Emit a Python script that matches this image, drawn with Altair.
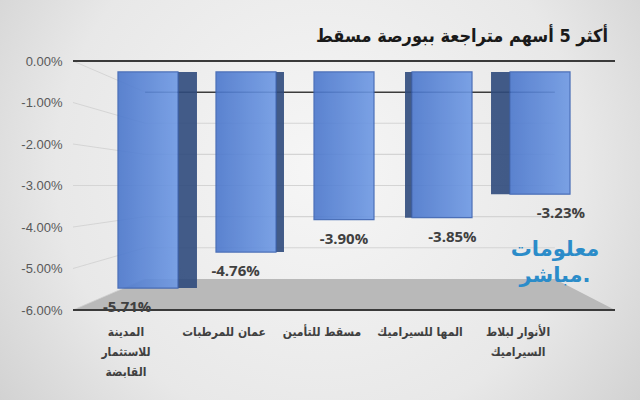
import altair as alt
import pandas as pd

# ---- data ----
companies = [
    "المدينة\nللاستثمار\nالقابضة",
    "عمان للمرطبات",
    "مسقط للتأمين",
    "المها للسيراميك",
    "الأنوار لبلاط\nالسيراميك",
]
changes = [-5.71, -4.76, -3.90, -3.85, -3.23]
y_ticks = [0, -1, -2, -3, -4, -5, -6]
wall_levels = [0, -1, -2, -3, -4, -5, -6]
title_text = "أكثر 5 أسهم متراجعة ببورصة مسقط"
watermark_text = "معلومات\nمباشر."

# ---- layout / style ----
W, H = 542, 249
PAD = {"left": 73, "top": 61, "right": 25, "bottom": 90}
BACK_L, BACK_R = 0.133, 0.889          # back wall extent (fraction of plot width)
AXIS_DOMAIN = [-6, 0]
BAR_DOMAIN = [-6.29, 0.29]               # front faces (perspective)
WALL_DOMAIN = [-7, 1]                    # back wall
BAR_W = 60
ARABIC_FONT = "DejaVu Sans Condensed, DejaVu Sans"
# side faces: (company index, width, side)
sides = [(0, 19, 1), (1, 8, 1), (3, 7, -1), (4, 19, -1)]

df = pd.DataFrame({"company": companies, "change": changes})
band = alt.Scale(domain=companies, paddingInner=0.39, paddingOuter=0.46)
frac = alt.Scale(domain=[0, 1], nice=False, zero=False)

bg = alt.Chart(pd.DataFrame({"a": [0]})).mark_rect(
    fill=alt.Gradient(
        gradient="radial", x1=0.5, y1=0.45, x2=0.5, y2=0.45, r1=0, r2=0.75,
        stops=[alt.GradientStop(color="#f6f6f6", offset=0),
               alt.GradientStop(color="#e8e8e8", offset=0.55),
               alt.GradientStop(color="#c4c4c4", offset=1)]),
).encode(x=alt.value(-PAD["left"]), x2=alt.value(W + PAD["right"]),
         y=alt.value(-PAD["top"]), y2=alt.value(H + PAD["bottom"]))

floor_df = pd.DataFrame({"fx": [0, BACK_L, BACK_R, 1], "ftop": [-7, -6, -6, -7]})
floor = alt.Chart(floor_df).mark_area(color="#b9b9b9").encode(
    x=alt.X("fx:Q", scale=frac, axis=None),
    y=alt.Y("ftop:Q", scale=alt.Scale(domain=WALL_DOMAIN, nice=False, zero=False), axis=None),
    y2=alt.datum(-7),
)

wall_df = pd.DataFrame({"v": wall_levels})
wall_grid = alt.Chart(wall_df).transform_filter("datum.v < 0 && datum.v > -6").mark_rule(
    color="#d4d4d4", strokeWidth=1.2
).encode(
    x=alt.datum(BACK_L, scale=frac), x2=alt.datum(BACK_R),
    y=alt.Y("v:Q", scale=alt.Scale(domain=WALL_DOMAIN, nice=False, zero=False), axis=None),
)
diag = alt.Chart(wall_df).transform_calculate(v2="-0.75*(1-datum.v)").mark_rule(
    color="#cfcfcf", strokeWidth=1, opacity=0.8
).encode(
    x=alt.datum(0, scale=frac), x2=alt.datum(BACK_L),
    y=alt.Y("v:Q", scale=alt.Scale(domain=AXIS_DOMAIN, nice=False, zero=False), axis=None),
    y2="v2:Q",
)
wall_top = alt.Chart(pd.DataFrame({"v": [0]})).mark_rule(color="#3c3c3c", strokeWidth=1.5).encode(
    x=alt.datum(BACK_L, scale=frac), x2=alt.datum(BACK_R),
    y=alt.Y("v:Q", scale=alt.Scale(domain=WALL_DOMAIN, nice=False, zero=False), axis=None),
)

axis_layer = alt.Chart(pd.DataFrame({"t": [0, -6]})).mark_rule(color="#3a3a3a", strokeWidth=2).encode(
    y=alt.Y("t:Q", scale=alt.Scale(domain=AXIS_DOMAIN, nice=False, zero=False),
            axis=alt.Axis(values=y_ticks,
                          labelExpr="(datum.value < 0 ? '-' : '') + format(abs(datum.value), '.2f') + '%'",
                          orient="left", zindex=1,
                          domain=False, ticks=False, grid=False, title=None,
                          labelFont="Liberation Sans", labelFontSize=13,
                          labelColor="#595959", labelPadding=11)),
)

bar_y = alt.Y("change:Q", scale=alt.Scale(domain=BAR_DOMAIN, nice=False, zero=False), axis=None)

side_layers = []
for idx, w, s in sides:
    side_layers.append(
        alt.Chart(df).transform_filter(alt.FieldEqualPredicate(field="company", equal=companies[idx]))
        .mark_bar(size=w, xOffset=s * (BAR_W / 2 + w / 2), color="#2f4a7c", opacity=0.9)
        .encode(x=alt.X("company:N", scale=band, sort=None, axis=None), y=bar_y, y2=alt.datum(0))
    )

bars = alt.Chart(df).mark_bar(
    size=BAR_W, stroke="#3b63b3", strokeWidth=1.2, opacity=0.9,
    fill=alt.Gradient(gradient="linear", x1=0, y1=0, x2=1, y2=0,
                      stops=[alt.GradientStop(color="#4b77cc", offset=0),
                             alt.GradientStop(color="#6e99e4", offset=1)]),
).encode(
    x=alt.X("company:N", scale=band, sort=None,
            axis=alt.Axis(title=None, labelAngle=0, domain=False, ticks=False,
                          orient="bottom", zindex=1,
                          labelExpr="split(datum.label, '\\n')", labelOffset=-22,
                          labelPadding=16, labelFont=ARABIC_FONT, labelFontSize=12,
                          labelFontWeight="bold", labelColor="#404040",
                          labelLineHeight=20, labelLimit=200)),
    y=bar_y, y2=alt.datum(0),
)

labels = alt.Chart(df).transform_calculate(
    lbl="(datum.change < 0 ? '-' : '') + format(abs(datum.change), '.2f') + '%'"
).mark_text(font="Open Sans", fontSize=15, fontWeight="bold", color="#404040", dy=19).encode(
    x=alt.X("company:N", scale=band, sort=None, axis=None), y=bar_y, text="lbl:N",
)

wm = alt.Chart(pd.DataFrame({"a": [0]})).mark_text(
    text=watermark_text, lineBreak="\n", font="DejaVu Sans", fontSize=21, fontWeight="bold",
    color="#2b8cc9", baseline="top", lineHeight=26, align="center",
).encode(x=alt.value(482), y=alt.value(178))

title = alt.Chart(pd.DataFrame({"a": [0]})).mark_text(
    text=title_text, font=ARABIC_FONT, fontSize=18, fontWeight="bold", color="#1a1a1a",
    align="right", baseline="alphabetic",
).encode(x=alt.value(W - 7), y=alt.value(-19))

chart = alt.layer(
    bg, floor, diag, wall_grid, wall_top, axis_layer, *side_layers, bars, labels, wm, title
).resolve_scale(x="independent", y="independent").properties(
    width=W, height=H, padding=PAD, autosize="none",
).configure_view(stroke=None)

chart.save("out.html", embed_options={"renderer": "svg", "actions": False})
